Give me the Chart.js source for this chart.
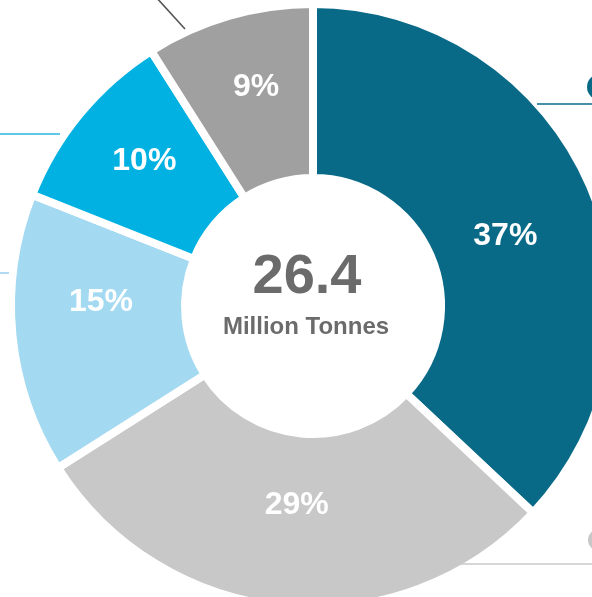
<!DOCTYPE html>
<html>
<head>
<meta charset="utf-8">
<title>Production share</title>
<script src="https://cdn.jsdelivr.net/npm/chart.js@4.4.1/dist/chart.umd.min.js"></script>
<style>
  html, body {
    margin: 0;
    padding: 0;
    background: #ffffff;
    overflow: hidden;
  }
  #wrap {
    position: absolute;
    left: 0;
    top: 0;
  }
</style>
</head>
<body>
<div id="wrap">
  <canvas id="shareChart" width="626" height="612"></canvas>
</div>
<script>
// Share of total tonnage, clockwise from 12 o'clock
const segments = ['A', 'B', 'C', 'D', 'E'];
const shares = [37, 29, 15, 10, 9];
const segmentColors = ['#096a88', '#c8c8c8', '#a3d9f1', '#00b1e2', '#a0a0a0'];
const totalValue = '26.4';
const totalUnit = 'Million Tonnes';

// small per-label shifts from the ring midpoint (px)
const labelShift = [[-5, 16], [4, -15], [2, -24], [-3, -8], [3, -12]];

// leader lines running out towards the side notes, relative to the centre
const leaders = [
  { from: [-158, -310], to: [-128, -277], color: '#555555' },
  { from: [-320, -172], to: [-253, -172], color: '#2bb4df' },
  { from: [-320, -33], to: [-304, -33], color: '#9fd2ee' },
  { from: [224, -202], to: [320, -202], color: '#096a88', dot: [287, -219, 13] },
  { from: [148, 258], to: [320, 258], color: '#c8c8c8', dot: [286, 234, 11] }
];

const ringBorder = 8;
const outerR = 298 + ringBorder / 2;
const innerR = 132 - ringBorder / 2;

const ringLabels = {
  id: 'ringLabels',
  afterDatasetsDraw(chart) {
    const ctx = chart.ctx;
    const arcs = chart.getDatasetMeta(0).data;
    ctx.save();
    ctx.fillStyle = '#ffffff';
    ctx.font = 'bold 32px "Liberation Sans", Arial, sans-serif';
    ctx.textAlign = 'center';
    ctx.textBaseline = 'middle';
    arcs.forEach((arc, i) => {
      const p = arc.getProps(['x', 'y', 'startAngle', 'endAngle'], true);
      const mid = (p.startAngle + p.endAngle) / 2;
      const r = 215;
      const x = p.x + Math.cos(mid) * r + labelShift[i][0];
      const y = p.y + Math.sin(mid) * r + labelShift[i][1];
      ctx.fillText(shares[i] + '%', x, y);
    });

    // centre total
    const cx = arcs[0].x;
    const cy = arcs[0].y;
    ctx.fillStyle = '#6b6b6b';
    ctx.font = 'bold 56px "Liberation Sans", Arial, sans-serif';
    ctx.fillText(totalValue, cx - 6, cy - 28);
    ctx.font = 'bold 24px "Liberation Sans", Arial, sans-serif';
    ctx.fillText(totalUnit, cx - 7, cy + 21);

    // leader lines
    leaders.forEach(l => {
      ctx.strokeStyle = l.color;
      ctx.lineWidth = 1.6;
      ctx.beginPath();
      ctx.moveTo(cx + l.from[0], cy + l.from[1]);
      ctx.lineTo(cx + l.to[0], cy + l.to[1]);
      ctx.stroke();
      if (l.dot) {
        ctx.fillStyle = l.color;
        ctx.beginPath();
        ctx.arc(cx + l.dot[0], cy + l.dot[1], l.dot[2], 0, Math.PI * 2);
        ctx.fill();
      }
    });
    ctx.restore();
  }
};

function initShareChart() {
  const ctx = document.getElementById('shareChart').getContext('2d');
  return new Chart(ctx, {
    type: 'doughnut',
    data: {
      labels: segments,
      datasets: [{
        data: shares,
        backgroundColor: segmentColors,
        borderColor: '#ffffff',
        borderWidth: ringBorder
      }]
    },
    options: {
      responsive: false,
      animation: false,
      events: [],
      radius: outerR,
      cutout: (innerR / outerR * 100) + '%',
      layout: { padding: 0 },
      plugins: {
        legend: { display: false },
        tooltip: { enabled: false }
      }
    },
    plugins: [ringLabels]
  });
}

initShareChart();
</script>
</body>
</html>
